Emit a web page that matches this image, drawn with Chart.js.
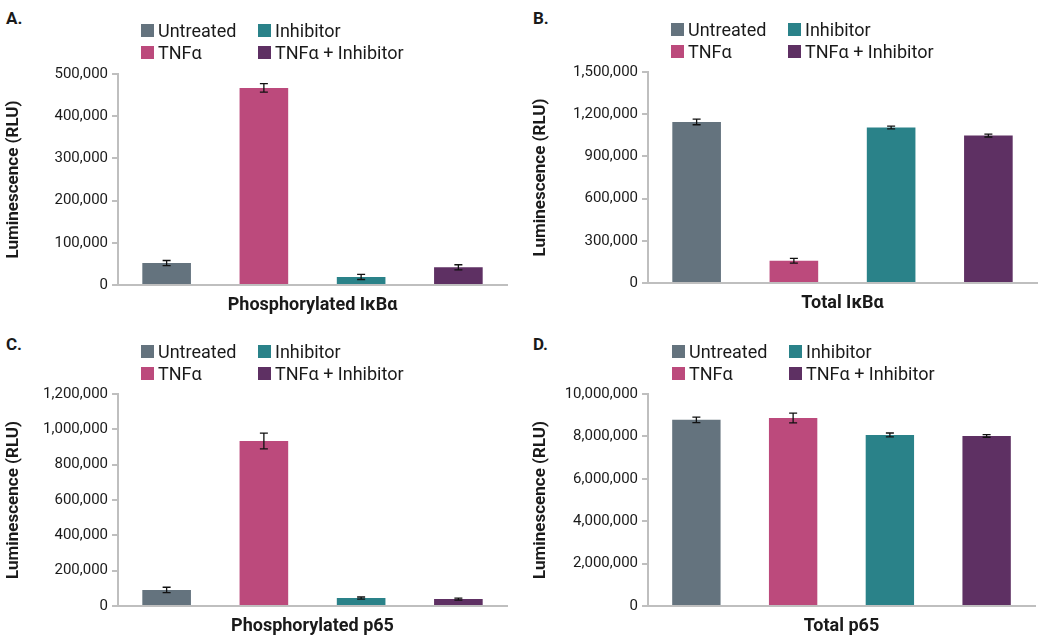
<!DOCTYPE html>
<html>
<head>
<meta charset="utf-8">
<script src="https://cdn.jsdelivr.net/npm/chart.js@4/dist/chart.umd.min.js"></script>
<style>
  body { margin: 0; background: #fff; font-family: Roboto, sans-serif; color: #1a1a1a; }
  #page { position: relative; width: 1044px; height: 636px; overflow: hidden; }
  canvas { position: absolute; }
  .letter { position: absolute; font-weight: bold; font-size: 17px; }
  .legend { position: absolute; display: grid; grid-template-columns: 117px auto; row-gap: 0; font-size: 18px; }
  .legend div { display: flex; align-items: center; height: 22px; white-space: nowrap; }
  .legend span.sw { display: inline-block; width: 13px; height: 13px; margin-right: 4px; }
</style>
</head>
<body>
<div id="page"></div>
<script>
const groups = ['Untreated', 'TNFα', 'Inhibitor', 'TNFα + Inhibitor'];
const legendOrder = [0, 2, 1, 3];
const groupColors = ['#64737e', '#bc4a7c', '#2a8289', '#5e3063'];

const panelLetters = ['A.', 'B.', 'C.', 'D.'];
const panelTitles = ['Phosphorylated IκBα', 'Total IκBα', 'Phosphorylated p65', 'Total p65'];

const phosIkbaMeans = [52000, 467000, 19000, 42000];
const phosIkbaErrors = [6000, 10000, 6000, 6000];
const totalIkbaMeans = [1145000, 158000, 1105000, 1048000];
const totalIkbaErrors = [20000, 17000, 10000, 10000];
const phosP65Means = [91000, 934000, 45000, 39000];
const phosP65Errors = [15000, 45000, 6000, 6000];
const totalP65Means = [8780000, 8870000, 8070000, 8020000];
const totalP65Errors = [130000, 230000, 90000, 60000];

const yMaxes = [500000, 1500000, 1200000, 10000000];
const ySteps = [100000, 300000, 200000, 2000000];

const panelMeans = [phosIkbaMeans, totalIkbaMeans, phosP65Means, totalP65Means];
const panelErrors = [phosIkbaErrors, totalIkbaErrors, phosP65Errors, totalP65Errors];

// layout of the four panels on the page
const layouts = [
  { left: 0,   top: 0,   pad: { top: 74, right: 15, bottom: 0, left: 0 }, yWidth: 118, xHeight: 33, titlePad: 4, legend: [141, 19],  letter: [6, 8] },
  { left: 522, top: 0,   pad: { top: 72, right: 7,  bottom: 0, left: 0 }, yWidth: 126, xHeight: 35, titlePad: 9, legend: [671, 18], letter: [533, 8] },
  { left: 0,   top: 318, pad: { top: 76, right: 15, bottom: 0, left: 0 }, yWidth: 118, xHeight: 30, titlePad: 4, legend: [141, 340], letter: [6, 334] },
  { left: 522, top: 318, pad: { top: 76, right: 9,  bottom: 0, left: 0 }, yWidth: 126, xHeight: 30, titlePad: 9, legend: [672, 340], letter: [533, 334] }
];

const errorBars = {
  id: 'errorBars',
  afterDatasetsDraw(chart, args, opts) {
    const ctx = chart.ctx;
    const y = chart.scales.y;
    ctx.save();
    ctx.strokeStyle = '#111';
    ctx.lineWidth = 1.3;
    chart.data.datasets.forEach((ds, i) => {
      const bar = chart.getDatasetMeta(i).data[0];
      const v = ds.data[0], e = opts.errors[i];
      const yTop = y.getPixelForValue(v + e), yBot = y.getPixelForValue(v - e);
      ctx.beginPath();
      ctx.moveTo(bar.x, yTop); ctx.lineTo(bar.x, yBot);
      ctx.moveTo(bar.x - 4, yTop); ctx.lineTo(bar.x + 4, yTop);
      ctx.moveTo(bar.x - 4, yBot); ctx.lineTo(bar.x + 4, yBot);
      ctx.stroke();
    });
    ctx.restore();
  }
};

const page = document.getElementById('page');

layouts.forEach((L, p) => {
  const letter = document.createElement('div');
  letter.className = 'letter';
  letter.textContent = panelLetters[p];
  letter.style.left = L.letter[0] + 'px';
  letter.style.top = L.letter[1] + 'px';
  page.appendChild(letter);

  const canvas = document.createElement('canvas');
  canvas.width = 522; canvas.height = 318;
  canvas.style.left = L.left + 'px';
  canvas.style.top = L.top + 'px';
  page.appendChild(canvas);

  const legend = document.createElement('div');
  legend.className = 'legend';
  legend.style.left = L.legend[0] + 'px';
  legend.style.top = L.legend[1] + 'px';
  legendOrder.forEach(g => {
    const item = document.createElement('div');
    item.innerHTML = `<span class="sw" style="background:${groupColors[g]}"></span>${groups[g]}`;
    legend.appendChild(item);
  });
  page.appendChild(legend);

  new Chart(canvas, {
    type: 'bar',
    data: {
      labels: [panelTitles[p]],
      datasets: groups.map((g, i) => ({
        label: g,
        data: [panelMeans[p][i]],
        backgroundColor: groupColors[i],
        categoryPercentage: 1.0,
        barPercentage: 0.5
      }))
    },
    options: {
      responsive: false,
      animation: false,
      devicePixelRatio: 1,
      layout: { padding: L.pad },
      plugins: {
        legend: { display: false },
        tooltip: { enabled: false },
        errorBars: { errors: panelErrors[p] }
      },
      scales: {
        x: {
          grid: { display: false, drawTicks: false },
          border: { display: true, color: '#bfbfbf', width: 2 },
          ticks: { color: '#1a1a1a', padding: 10, font: { family: 'Roboto', size: 18, weight: 'bold' } },
          afterFit(scale) { scale.height = L.xHeight; }
        },
        y: {
          min: 0,
          max: yMaxes[p],
          grid: { drawOnChartArea: false, drawTicks: true, tickLength: 6, color: '#bfbfbf', lineWidth: 2 },
          border: { display: true, color: '#bfbfbf', width: 2 },
          ticks: {
            stepSize: ySteps[p],
            padding: 4,
            color: '#1a1a1a',
            font: { family: 'Roboto', size: 15 },
            callback: v => v.toLocaleString('en-US')
          },
          title: {
            display: true,
            text: 'Luminescence (RLU)',
            color: '#1a1a1a',
            padding: { top: L.titlePad, bottom: 0 },
            font: { family: 'Roboto', size: 17, weight: 'bold' }
          },
          afterFit(scale) { scale.width = L.yWidth; }
        }
      }
    },
    plugins: [errorBars]
  });
});
</script>
</body>
</html>
